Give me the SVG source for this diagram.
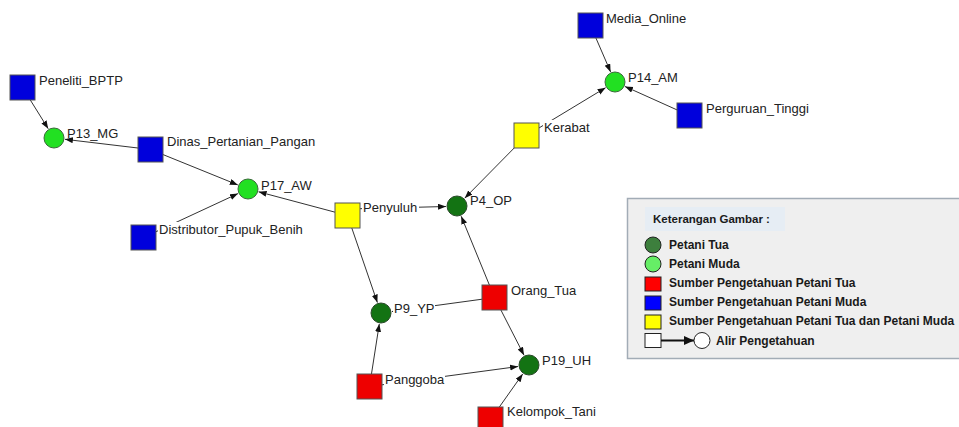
<svg xmlns="http://www.w3.org/2000/svg" width="959" height="427" viewBox="0 0 959 427">
<style>
  .lbl { font-family: "Liberation Sans", Arial, sans-serif; font-size: 13px; fill: #222; }
  .bg { fill: #ffffff; }
  .edge { stroke: #333; stroke-width: 1; fill: none; marker-end: url(#arr); }
  .sq { stroke: #555; stroke-width: 1; }
  .blue { fill: #0000dc; }
  .red { fill: #ee0000; }
  .yel { fill: #ffff00; }
  .lg { fill: #22e022; stroke: #3a6a3a; stroke-width: 1; }
  .dg { fill: #137313; stroke: #2a4a2a; stroke-width: 1; }
  .leg { font-family: "Liberation Sans", Arial, sans-serif; font-size: 12px; font-weight: bold; fill: #1a1a1a; }
</style>
<defs>
  <marker id="arr" markerUnits="userSpaceOnUse" markerWidth="9" markerHeight="7" refX="8" refY="3" orient="auto">
    <path d="M0,0 L8,3 L0,6 z" fill="#111"/>
  </marker>
  <marker id="arr2" markerUnits="userSpaceOnUse" markerWidth="12" markerHeight="10" refX="10" refY="4.5" orient="auto">
    <path d="M0,0 L10,4.5 L0,9 z" fill="#111"/>
  </marker>
</defs>
<rect width="959" height="427" fill="#ffffff"/>

<g id="connectors">
  <line class="edge" x1="22.5" y1="87.5" x2="48.2" y2="128.7"/>
  <line class="edge" x1="150.5" y1="149.5" x2="64.9" y2="139.3"/>
  <line class="edge" x1="150.5" y1="149.5" x2="237.8" y2="184.9"/>
  <line class="edge" x1="143.5" y1="237.5" x2="238.0" y2="193.6"/>
  <line class="edge" x1="347.5" y1="215.5" x2="258.6" y2="191.8"/>
  <line class="edge" x1="347.5" y1="209" x2="446.0" y2="206.5"/>
  <line class="edge" x1="347.5" y1="215.5" x2="377.4" y2="302.6"/>
  <line class="edge" x1="526.5" y1="135.5" x2="464.7" y2="198.2"/>
  <line class="edge" x1="526.5" y1="135.5" x2="605.6" y2="87.7"/>
  <line class="edge" x1="590.5" y1="25.5" x2="610.6" y2="71.9"/>
  <line class="edge" x1="689.5" y1="115.5" x2="625.0" y2="86.5"/>
  <line class="edge" x1="494.5" y1="297.5" x2="461.2" y2="216.2"/>
  <line class="edge" x1="494.5" y1="297.5" x2="391.9" y2="311.5"/>
  <line class="edge" x1="494.5" y1="297.5" x2="524.0" y2="355.2"/>
  <line class="edge" x1="369.5" y1="386.5" x2="379.3" y2="323.9"/>
  <line class="edge" x1="369.5" y1="386.5" x2="518.1" y2="366.5"/>
  <line class="edge" x1="490.5" y1="419.5" x2="522.7" y2="374.0"/>
</g>

<g id="Peneliti_BPTP">
  <rect class="sq blue" x="10" y="75" width="25" height="25"/>
  <text class="lbl" x="39" y="85">Peneliti_BPTP</text>
</g>
<g id="P13_MG">
  <circle class="lg" cx="54" cy="138" r="10"/>
  <text class="lbl" x="67" y="138">P13_MG</text>
</g>
<g id="Dinas_Pertanian_Pangan">
  <rect class="sq blue" x="138" y="137" width="25" height="25"/>
  <text class="lbl" x="167" y="146">Dinas_Pertanian_Pangan</text>
</g>
<g id="P17_AW">
  <circle class="lg" cx="248" cy="189" r="10"/>
  <text class="lbl" x="261" y="190">P17_AW</text>
</g>
<g id="Distributor_Pupuk_Benih">
  <rect class="sq blue" x="131" y="225" width="25" height="25"/>
  <rect class="bg" x="158" y="222" width="152" height="15"/>
  <text class="lbl" x="159" y="234">Distributor_Pupuk_Benih</text>
</g>
<g id="Penyuluh">
  <rect class="sq yel" x="335" y="203" width="25" height="25"/>
  <rect class="bg" x="362" y="200" width="57" height="15"/>
  <text class="lbl" x="363" y="212">Penyuluh</text>
</g>
<g id="P4_OP">
  <circle class="dg" cx="457" cy="206" r="10"/>
  <text class="lbl" x="470" y="205">P4_OP</text>
</g>
<g id="Kerabat">
  <rect class="sq yel" x="514" y="123" width="25" height="25"/>
  <rect class="bg" x="543" y="120" width="50" height="15"/>
  <text class="lbl" x="544" y="132">Kerabat</text>
</g>
<g id="Media_Online">
  <rect class="sq blue" x="578" y="13" width="25" height="25"/>
  <text class="lbl" x="606" y="23">Media_Online</text>
</g>
<g id="P14_AM">
  <circle class="lg" cx="615" cy="82" r="10"/>
  <text class="lbl" x="628" y="82">P14_AM</text>
</g>
<g id="Perguruan_Tinggi">
  <rect class="sq blue" x="677" y="103" width="25" height="25"/>
  <text class="lbl" x="706" y="113">Perguruan_Tinggi</text>
</g>
<g id="Orang_Tua">
  <rect class="sq red" x="482" y="285" width="25" height="25"/>
  <text class="lbl" x="511" y="295">Orang_Tua</text>
</g>
<g id="P9_YP">
  <circle class="dg" cx="381" cy="313" r="10"/>
  <rect class="bg" x="393" y="301" width="42" height="15"/>
  <text class="lbl" x="394" y="313">P9_YP</text>
</g>
<g id="P19_UH">
  <circle class="dg" cx="529" cy="365" r="10"/>
  <text class="lbl" x="542" y="365">P19_UH</text>
</g>
<g id="Panggoba">
  <rect class="sq red" x="357" y="374" width="25" height="25"/>
  <rect class="bg" x="384" y="371" width="61" height="16"/>
  <text class="lbl" x="385" y="384">Panggoba</text>
</g>
<g id="Kelompok_Tani">
  <rect class="sq red" x="478" y="407" width="25" height="25"/>
  <text class="lbl" x="507" y="416">Kelompok_Tani</text>
</g>

<g id="legend">
  <rect x="627.5" y="198.5" width="340" height="160" fill="#efefef" stroke="#a2acb6" stroke-width="1.5"/>
  <rect x="645" y="207" width="140" height="24" fill="#e6edf4"/>
  <text class="leg" x="653" y="223" style="font-size:11.5px">Keterangan Gambar :</text>
  <circle cx="653" cy="245" r="8" fill="#3d7f3d" stroke="#222" stroke-width="1"/>
  <text class="leg" x="669" y="249">Petani Tua</text>
  <circle cx="653" cy="264" r="8" fill="#66ee66" stroke="#222" stroke-width="1"/>
  <text class="leg" x="669" y="268">Petani Muda</text>
  <rect x="645" y="277" width="16" height="14" fill="#ff0000" stroke="#222" stroke-width="1"/>
  <text class="leg" x="669" y="287">Sumber Pengetahuan Petani Tua</text>
  <rect x="645" y="296" width="16" height="14" fill="#0000ff" stroke="#222" stroke-width="1"/>
  <text class="leg" x="669" y="306">Sumber Pengetahuan Petani Muda</text>
  <rect x="645" y="315" width="16" height="14" fill="#ffff00" stroke="#222" stroke-width="1"/>
  <text class="leg" x="669" y="325">Sumber Pengetahuan Petani Tua dan Petani Muda</text>
  <rect x="645" y="333.5" width="16" height="14" fill="#ffffff" stroke="#222" stroke-width="1"/>
  <line x1="661" y1="340.5" x2="694" y2="340.5" stroke="#111" stroke-width="2" marker-end="url(#arr2)"/>
  <circle cx="702" cy="340.5" r="8" fill="#ffffff" stroke="#222" stroke-width="1"/>
  <text class="leg" x="716" y="345">Alir Pengetahuan</text>
</g>
</svg>
